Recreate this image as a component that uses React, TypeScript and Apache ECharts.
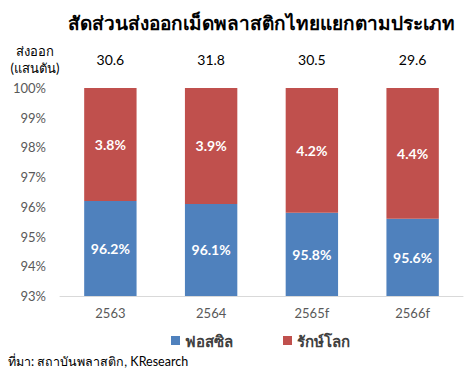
import React, { useEffect, useRef } from "react";
import * as echarts from "echarts";

const categories = ["2563", "2564", "2565f", "2566f"];
const fossil = [96.2, 96.1, 95.8, 95.6];
const green = [3.8, 3.9, 4.2, 4.4];
const exportsVol = ["30.6", "31.8", "30.5", "29.6"];
const seriesNames = ["ฟอสซิล", "รักษ์โลก"];

const FONT = 'Lato, "Noto Sans", "DejaVu Sans", sans-serif';

export default function App() {
  const ref = useRef<HTMLDivElement>(null);
  useEffect(() => {
    if (!ref.current) return;
    const chart = echarts.init(ref.current, undefined, { renderer: "svg" });
    chart.setOption({
      animation: false,
      textStyle: { fontFamily: FONT },
      title: {
        text: "สัดส่วนส่งออกเม็ดพลาสติกไทยแยกตามประเภท",
        left: 256,
        textAlign: "center",
        top: 8,
        textStyle: { fontSize: 19, fontWeight: "bold", color: "#000", fontFamily: FONT },
      },
      legend: {
        data: seriesNames,
        left: 166,
        top: 328,
        itemWidth: 9,
        itemHeight: 9,
        itemGap: 50,
        icon: "rect",
        textStyle: { fontSize: 15, fontWeight: "bold", color: "#404040", fontFamily: FONT },
      },
      graphic: [
        {
          type: "text",
          x: 35,
          y: 42,
          style: {
            text: "ส่งออก\n(แสนตัน)",
            fontSize: 13,
            fill: "#000",
            align: "center",
            lineHeight: 17,
            fontFamily: FONT,
          },
        },
        {
          type: "text",
          left: 8,
          top: 355,
          style: {
            text: "ที่มา: สถาบันพลาสติก, KResearch",
            fontSize: 12.5,
            fill: "#000",
            fontFamily: FONT,
          },
        },
      ],
      grid: { left: 60, right: 1, top: 88, bottom: 80 },
      xAxis: [
        {
          type: "category",
          data: categories,
          axisLine: { lineStyle: { color: "#d9d9d9", width: 1 } },
          axisTick: { show: false },
          axisLabel: { color: "#595959", fontSize: 13, margin: 10, fontFamily: FONT },
        },
        {
          type: "category",
          position: "top",
          data: exportsVol,
          axisLine: { show: false },
          axisTick: { show: false },
          axisLabel: { color: "#000", fontSize: 14, margin: 22, fontFamily: FONT },
        },
      ],
      yAxis: {
        type: "value",
        min: 93,
        max: 100,
        interval: 1,
        splitLine: { show: false },
        axisLine: { show: false },
        axisTick: { show: false },
        axisLabel: {
          color: "#595959",
          fontSize: 13,
          margin: 14,
          fontFamily: FONT,
          formatter: (v: number) => v + "%",
        },
      },
      series: [
        {
          name: seriesNames[0],
          type: "bar",
          stack: "s",
          data: fossil,
          barWidth: "52%",
          itemStyle: { color: "#4F81BD" },
          label: {
            show: true,
            position: "inside",
            color: "#fff",
            fontWeight: "bold",
            fontSize: 14,
            fontFamily: FONT,
            formatter: (p: any) => p.value.toFixed(1) + "%",
          },
        },
        {
          name: seriesNames[1],
          type: "bar",
          stack: "s",
          data: green,
          barWidth: "52%",
          itemStyle: { color: "#C0504D" },
          label: {
            show: true,
            position: "inside",
            color: "#fff",
            fontWeight: "bold",
            fontSize: 14,
            fontFamily: FONT,
            formatter: (p: any) => p.value.toFixed(1) + "%",
          },
        },
      ],
    });
    return () => chart.dispose();
  }, []);
  return <div ref={ref} style={{ width: 464, height: 376, position: "absolute", left: 0, top: 0 }} />;
}
